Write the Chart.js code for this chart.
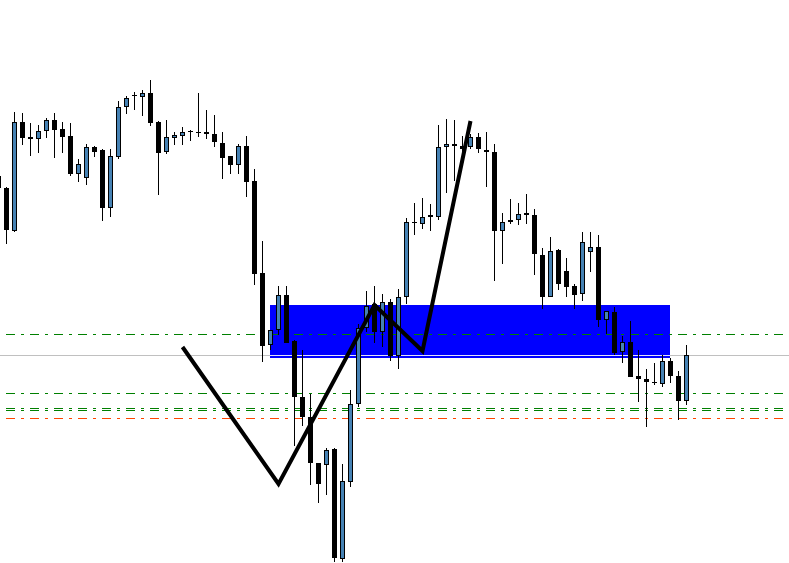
<!DOCTYPE html>
<html>
<head>
<meta charset="utf-8">
<script src="https://cdn.jsdelivr.net/npm/chart.js@4.4.1/dist/chart.umd.min.js"></script>
<style>
html,body{margin:0;padding:0;background:#ffffff;overflow:hidden;}
canvas{display:block;}
</style>
</head>
<body>
<canvas id="c" width="789" height="563"></canvas>
<script>
// Candle data (price units), oldest -> newest
const opens = [424,412,369,478,463,461,469,480,471,464,426,422,453,450,392,443,493,505,503,507,478,448,462,464,469,468,468,466,457,444,435,454,419,327,255,270,305,259,203,183,137,135,151,41,118,196,272,296,268,298,244,303,378,376,385,383,453,456,454,453,463,450,448,369,378,380,387,385,345,303,350,329,314,306,348,353,280,288,248,258,224,221,218,216,239,224,199];
const highs = [424,413,488,487,477,475,482,487,478,477,441,456,454,451,451,499,504,508,510,520,479,480,468,473,470,507,490,485,468,444,456,464,431,359,270,314,314,260,250,206,137,152,152,136,210,276,309,314,306,301,311,382,397,402,396,475,481,480,464,466,467,468,456,387,401,397,406,391,352,363,351,342,316,368,368,365,289,293,264,279,250,231,237,245,242,229,255];
const lows = [410,356,368,455,444,447,462,442,447,424,418,415,443,379,383,441,486,490,484,474,405,446,455,455,459,463,461,453,421,426,426,403,315,238,250,265,257,154,174,115,97,105,38,38,113,193,268,257,253,239,231,296,365,371,369,380,407,419,448,451,447,413,319,336,376,375,376,325,291,303,310,303,291,299,328,273,266,245,237,223,198,173,215,213,217,180,195];
const closes = [412,370,478,462,461,469,480,470,463,426,436,453,448,392,444,493,502,504,507,477,447,463,465,468,468,467,466,458,442,435,454,418,326,254,270,305,257,203,183,137,116,150,42,119,196,272,294,268,298,244,303,378,377,383,383,453,456,454,451,463,451,448,369,378,380,386,385,346,303,349,316,313,305,358,353,280,289,247,258,223,221,218,217,239,224,199,245];

// Zigzag swing points: candle index and price
const zigIdx = [23,35,47,53,59];
const zigVal = [253,116,295,249,479];

// Zone rectangle: candle index range and price range
const zoneIdx = [33.9375, 83.9375];
const zoneTop = 295;
const zoneBottom = 242;

// Horizontal levels
const greenLevels = [265.5, 206.5, 191.5, 189.5];
const redLevels = [181.5];
const currentLevel = 244.5;

const xMin = 0.1875, xMax = 98.8125;
const levelStart = 0.9375, levelEnd = 98.0625;

const wickData = lows.map((l,i)=>({x:i, y:[l, highs[i]]}));
const bodyData = opens.map((o,i)=>({x:i, y:[o, closes[i]]}));

const datasets = [];
datasets.push({
  type:'line', order:0,
  data: zigIdx.map((x,i)=>({x, y:zigVal[i]})),
  borderColor:'#000000', borderWidth:4, pointRadius:0, fill:false, tension:0,
  borderJoinStyle:'miter'
});
datasets.push({
  type:'bar', order:1, grouped:false,
  data: bodyData,
  barThickness:5, borderWidth:1, borderColor:'#000000', borderSkipped:false, inflateAmount:0,
  backgroundColor:(ctx)=>{const i=ctx.dataIndex; return closes[i]>opens[i] ? '#4682B4' : '#000000';}
});
datasets.push({
  type:'bar', order:2, grouped:false,
  data: wickData,
  barThickness:1, borderWidth:0, backgroundColor:'#000000', inflateAmount:0
});
greenLevels.forEach(v=>{
  datasets.push({type:'line', order:3, data:[{x:levelStart,y:v},{x:levelEnd,y:v}],
    borderColor:'#008000', borderWidth:1, borderDash:[9,6,3,6], pointRadius:0, fill:false});
});
redLevels.forEach(v=>{
  datasets.push({type:'line', order:3, data:[{x:levelStart,y:v},{x:levelEnd,y:v}],
    borderColor:'#FF4500', borderWidth:1, borderDash:[9,6,3,6], pointRadius:0, fill:false});
});
datasets.push({type:'line', order:4, data:[{x:zoneIdx[0],y:currentLevel},{x:zoneIdx[1],y:currentLevel}],
  borderColor:'#E2E2FA', borderWidth:1, pointRadius:0, fill:false});
datasets.push({type:'line', order:5, data:[{x:zoneIdx[0],y:zoneTop},{x:zoneIdx[1],y:zoneTop}],
  borderColor:'rgba(0,0,255,0)', borderWidth:0, pointRadius:0,
  backgroundColor:'#0000FF', fill:{value:zoneBottom}});
datasets.push({type:'line', order:6, data:[{x:xMin,y:currentLevel},{x:xMax,y:currentLevel}],
  borderColor:'#C0C0C0', borderWidth:1, pointRadius:0, fill:false});

new Chart(document.getElementById('c'), {
  type:'bar',
  data:{datasets},
  options:{
    responsive:false, animation:false, devicePixelRatio:1,
    layout:{padding:0},
    plugins:{legend:{display:false}, tooltip:{enabled:false}},
    scales:{
      x:{type:'linear', display:false, min:xMin, max:xMax, offset:false},
      y:{type:'linear', display:false, min:37, max:600}
    }
  }
});
</script>
</body>
</html>
